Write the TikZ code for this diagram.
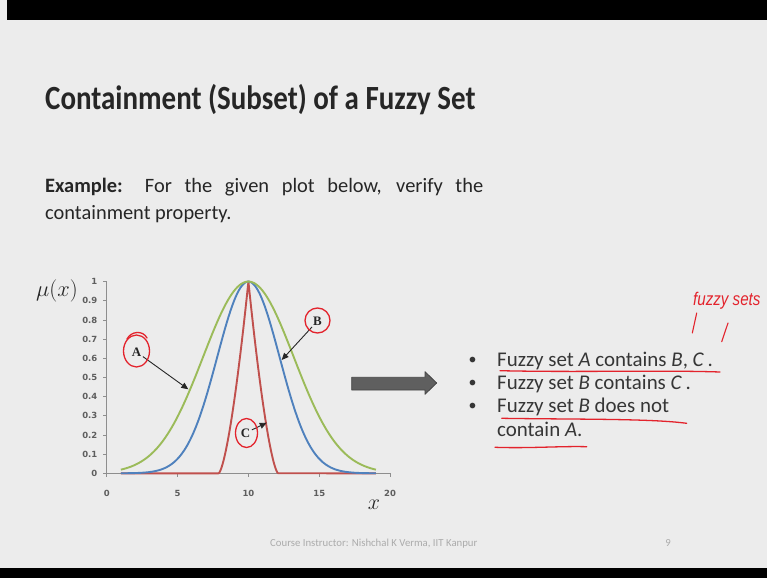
\RequirePackage{fix-cm}
\documentclass[tikz,border=0pt]{standalone}
\usepackage{graphicx}
\usepackage{fontspec}
\setmainfont{Carlito}
\newfontfamily\labserif{Liberation Serif}
\newfontfamily\tickfont{DejaVu Sans}
\newfontfamily\handfont{Liberation Sans}
\usetikzlibrary{arrows.meta}
\definecolor{bg}{HTML}{ECECEC}
\definecolor{txt}{HTML}{262626}
\definecolor{bodytxt}{HTML}{363636}
\definecolor{curveA}{HTML}{9BBB59}
\definecolor{curveB}{HTML}{4F81BD}
\definecolor{curveC}{HTML}{C0504D}
\definecolor{ink}{HTML}{E3232C}
\definecolor{axisc}{HTML}{8E8E8E}
\definecolor{tickc}{HTML}{5E5E5E}
\definecolor{arrowfill}{HTML}{5F5F5F}
\definecolor{arrowline}{HTML}{444444}
\definecolor{footc}{HTML}{ABABAB}
\begin{document}
\begin{tikzpicture}[x=1bp,y=-1bp,
  txtnode/.style={anchor=base west,inner sep=0pt,text=bodytxt,font=\fontsize{21}{24}\selectfont},
  bulnode/.style={anchor=base,inner sep=0pt,text=bodytxt,font=\fontsize{16}{16}\selectfont},
  setlab/.style={inner sep=1.5pt,text=txt,font=\labserif\bfseries\fontsize{13}{13}\selectfont},
  pointer/.style={draw=black!85,line width=0.9pt,-{Triangle[length=7bp,width=6bp]}},
  pen/.style={draw=ink,line width=1.3pt,line cap=round},
  tickl/.style={inner sep=0pt,text=tickc,font=\tickfont\bfseries\fontsize{8.5}{8.5}\selectfont},
  curve/.style={line width=1.9pt,line join=round}]
\useasboundingbox (0,0) rectangle (767,578);
\fill[bg] (0,0) rectangle (767,578);
\fill[black] (7,0) rectangle (767,20);
\fill[black] (0,568) rectangle (767,578);

% title and example
\node[anchor=base west,inner sep=0pt,text=txt,font=\fontsize{34}{40}\selectfont\bfseries] (title) at (45,110) {\scalebox{0.855}[1]{Containment (Subset) of a Fuzzy Set}};
\node[anchor=base west,inner sep=0pt,text=txt,font=\fontsize{20.5}{27}\selectfont] (ex1) at (45,193) {\makebox[438bp][s]{\textbf{Example:} For the given plot below, verify the}};
\node[anchor=base west,inner sep=0pt,text=txt,font=\fontsize{20.5}{27}\selectfont] (ex2) at (45,220) {containment property.};

% axes
\draw[axisc,line width=0.9pt] (106.7,281.7) -- (106.7,473.3) -- (390.1,473.3);
\foreach \i in {0,...,10} \draw[axisc,line width=0.8pt] (103.2,{473.3-19.17*\i}) -- (106.7,{473.3-19.17*\i});
\foreach \i/\l in {0/0,1/0.1,2/0.2,3/0.3,4/0.4,5/0.5,6/0.6,7/0.7,8/0.8,9/0.9,10/1}
  \node[tickl,anchor=east] at (97.5,{473.3-19.17*\i}) {\l};
\foreach \v in {0,5,10,15,20} {
  \draw[axisc,line width=0.8pt] ({106.7+14.17*\v},473.3) -- ({106.7+14.17*\v},477);
  \node[tickl] at ({106.7+14.17*\v},493) {\v};
}
\node[anchor=base east,inner sep=0pt,text=txt,font=\fontsize{22.5}{22.5}\selectfont] (mu) at (78,296) {$\mu(x)$};
\node[inner sep=0pt,text=txt,font=\fontsize{22}{22}\selectfont] (xl) at (374,505) {$x$};

% curves
\draw[curveC,curve] (120.9,473.3) -- (218.6,473.3)
  -- plot[domain=7.9:10,samples=40] ({106.7+14.17*\x},{473.3-191.7*((\x-7.9)/2.1)*sqrt(abs((\x-7.9)/2.1))})
  -- plot[domain=10:12.1,samples=40] ({106.7+14.17*\x},{473.3-191.7*((12.1-\x)/2.1)*sqrt(abs((12.1-\x)/2.1))})
  -- (375.9,473.3);
\draw[curveB,curve] plot[domain=1:19,samples=150] ({106.7+14.17*\x},{473.3-191.7*exp(-((\x-10)*(\x-10))/(2*2.2*2.2))});
\draw[curveA,curve] plot[domain=1:19,samples=150] ({106.7+14.17*\x},{473.3-191.7*exp(-((\x-10)*(\x-10))/(2*3.2*3.2))});

% set labels and pointers
\node[setlab] (A) at (136.5,352) {A};
\node[setlab] (B) at (317.5,321) {B};
\node[setlab] (C) at (245.5,433) {C};
\coordinate (Atip) at (188.3,389.3);
\coordinate (Btip) at (281.7,360);
\coordinate (Ctip) at (266.7,422.7);
\draw[pointer] (A) -- (Atip);
\draw[pointer] (B) -- (Btip);
\draw[pointer] (C) -- (Ctip);

% pen circles
\draw[pen] (136.5,351) ellipse [x radius=13,y radius=16];
\draw[pen] (127,339) .. controls (131,331) and (143,330) .. (147,338);
\draw[pen] (317.5,320.5) ellipse [x radius=12.5,y radius=12.5];
\draw[pen] (246.5,433) ellipse [x radius=11,y radius=14.5];

% block arrow
\fill[arrowfill,draw=arrowline,line width=0.8pt,line join=round] (351.7,377.3) -- (425,377.3) -- (425,371.7) -- (436.7,383) -- (425,394.3) -- (425,390) -- (351.7,390) -- cycle;

% bullet list
\node[bulnode] (b1) at (472.7,364) {•};
\node[bulnode] (b2) at (472.7,387) {•};
\node[bulnode] (b3) at (472.7,410.3) {•};
\node[txtnode] (t1) at (497,366) {Fuzzy set \textit{A} contains \textit{B}, \textit{C}\,.};
\node[txtnode] (t2) at (497,389) {Fuzzy set \textit{B} contains \textit{C}\,.};
\node[txtnode] (t3) at (497,412.3) {Fuzzy set \textit{B} does not};
\node[txtnode] (t4) at (497,436) {contain \textit{A}.};

% pen underlines and note
\draw[pen] (500,370.7) .. controls (580,372.5) and (660,370) .. (720,372);
\draw[pen] (501.7,418.3) .. controls (580,419.5) and (650,418.5) .. (686.7,423.3);
\draw[pen] (495,447.3) .. controls (530,448.5) and (560,446) .. (586.7,446.7);
\node[anchor=base west,inner sep=0pt,text=ink,font=\handfont\itshape\fontsize{16}{16}\selectfont] (note) at (693,305) {\scalebox{0.95}[1.15]{fuzzy sets}};
\draw[pen,line width=1.1pt] (696.7,313) -- (692.3,333);
\draw[pen,line width=1.1pt] (728,323) -- (721.7,341.7);

% footer
\node[anchor=base west,inner sep=0pt,text=footc,font=\fontsize{10.8}{12}\selectfont] (foot) at (270,546) {Course Instructor: Nishchal K Verma, IIT Kanpur};
\node[anchor=base,inner sep=0pt,text=footc,font=\fontsize{10.8}{12}\selectfont] (page) at (668,546) {9};
\end{tikzpicture}
\end{document}
